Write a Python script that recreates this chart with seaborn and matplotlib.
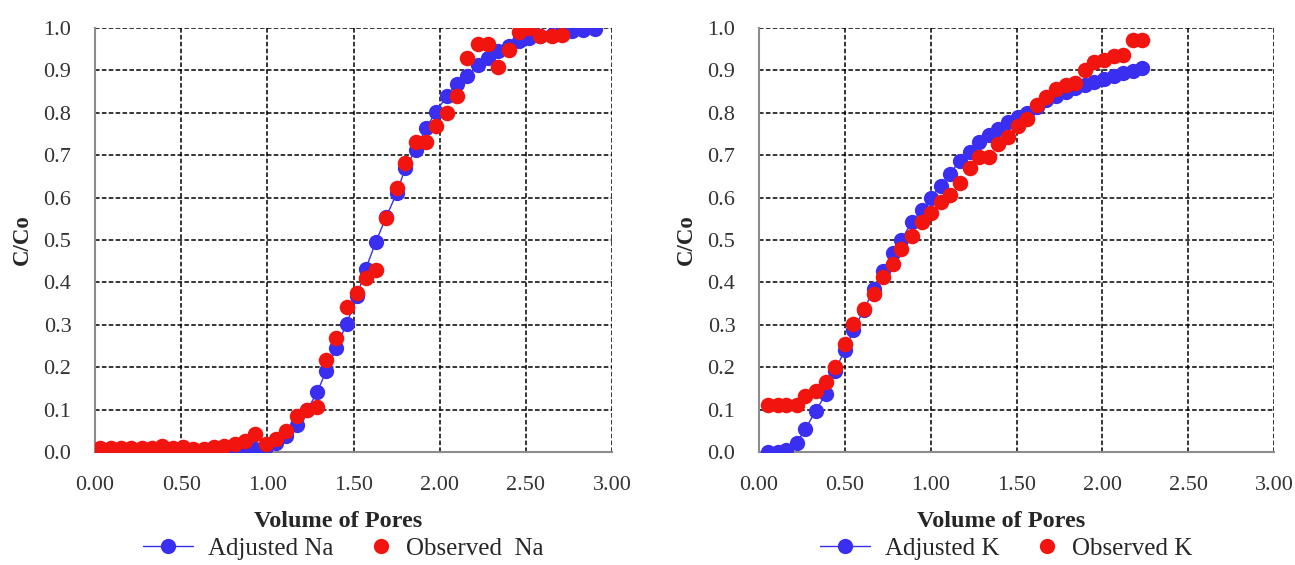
import matplotlib
matplotlib.use("Agg")
import matplotlib.pyplot as plt
from matplotlib.lines import Line2D
from matplotlib.legend_handler import HandlerLine2D
from matplotlib.ticker import FormatStrFormatter
import seaborn as sns

sns.set_style("white")
plt.rcParams['font.family'] = ['Liberation Serif', 'DejaVu Serif']

BLUE = '#3a2ef0'
RED = '#f2140f'

# Sodium breakthrough (left panel)
na_pores = [0.03, 0.09, 0.15, 0.21, 0.27, 0.33, 0.39, 0.45, 0.51, 0.57, 0.63, 0.69,
            0.75, 0.81, 0.87, 0.93, 0.99, 1.05, 1.11, 1.17, 1.23, 1.29, 1.34, 1.40,
            1.46, 1.52, 1.57, 1.63, 1.69, 1.75, 1.80, 1.86, 1.92, 1.98, 2.04, 2.10,
            2.16, 2.22, 2.28, 2.34, 2.40, 2.46, 2.52, 2.58, 2.65, 2.71, 2.77, 2.83, 2.90]
na_adjusted = [0.0, 0.0, 0.0, 0.0, 0.0, 0.0, 0.0, 0.0, 0.0, 0.0, 0.0, 0.0,
               0.0, 0.001, 0.003, 0.006, 0.012, 0.022, 0.038, 0.063, 0.098, 0.142, 0.19, 0.246,
               0.303, 0.367, 0.431, 0.496, 0.555, 0.61, 0.669, 0.713, 0.764, 0.803, 0.839, 0.869,
               0.887, 0.913, 0.929, 0.945, 0.957, 0.969, 0.976, 0.982, 0.984, 0.988, 0.992, 0.995, 0.997]
na_observed = [0.01, 0.01, 0.01, 0.01, 0.01, 0.01, 0.015, 0.01, 0.012, 0.008, 0.008, 0.012,
               0.013, 0.018, 0.025, 0.042, 0.018, 0.03, 0.05, 0.086, 0.098, 0.106, 0.218, 0.27,
               0.341, 0.375, 0.41, 0.43, 0.553, 0.622, 0.681, 0.732, 0.732, 0.768, 0.80, 0.84,
               0.929, 0.962, 0.962, 0.909, 0.949, 0.99, 1.0, 0.982, 0.982, 0.984]

# Potassium breakthrough (right panel)
k_pores = [0.05, 0.11, 0.16, 0.22, 0.27, 0.33, 0.39, 0.44, 0.50, 0.55, 0.61, 0.67,
           0.72, 0.78, 0.83, 0.89, 0.95, 1.00, 1.06, 1.11, 1.17, 1.23, 1.28, 1.34,
           1.39, 1.45, 1.51, 1.56, 1.62, 1.67, 1.73, 1.79, 1.84, 1.90, 1.95, 2.01,
           2.07, 2.12, 2.18, 2.23]
k_adjusted = [0.0, 0.0, 0.005, 0.022, 0.054, 0.097, 0.137, 0.19, 0.24, 0.287, 0.335, 0.384,
              0.426, 0.47, 0.50, 0.543, 0.57, 0.60, 0.628, 0.656, 0.687, 0.707, 0.731, 0.747,
              0.762, 0.778, 0.79, 0.80, 0.814, 0.83, 0.84, 0.85, 0.858, 0.866, 0.873, 0.879,
              0.886, 0.893, 0.899, 0.905]
k_observed = [0.111, 0.111, 0.111, 0.111, 0.133, 0.145, 0.165, 0.2, 0.255, 0.302, 0.337, 0.372,
              0.412, 0.443, 0.478, 0.51, 0.543, 0.563, 0.59, 0.606, 0.634, 0.671, 0.695, 0.695,
              0.727, 0.743, 0.77, 0.786, 0.818, 0.838, 0.857, 0.865, 0.87, 0.90, 0.921, 0.925,
              0.933, 0.937, 0.972, 0.972]

x_ticks = [0.0, 0.5, 1.0, 1.5, 2.0, 2.5, 3.0]
y_ticks = [0.0, 0.1, 0.2, 0.3, 0.4, 0.5, 0.6, 0.7, 0.8, 0.9, 1.0]


class DotNearText(HandlerLine2D):
    # marker-only entry: push the dot to the right end of its handle box
    def create_artists(self, legend, orig_handle, xdescent, ydescent, width, height,
                       fontsize, trans):
        artists = super().create_artists(legend, orig_handle, xdescent, ydescent,
                                         width, height, fontsize, trans)
        for art in artists:
            art.set_xdata([x + 0.3 * width for x in art.get_xdata()])
        return artists


def draw_panel(ax, x_adj, y_adj, x_obs, y_obs, labels):
    sns.lineplot(x=x_adj, y=y_adj, ax=ax, color=BLUE, linewidth=1, marker='o',
                 markersize=11, markeredgewidth=0, zorder=3)
    sns.scatterplot(x=x_obs, y=y_obs, ax=ax, color=RED, s=125, linewidth=0, zorder=4)

    ax.set_xlim(0, 3)
    ax.set_ylim(0, 1)
    ax.set_xticks(x_ticks)
    ax.set_yticks(y_ticks)
    ax.xaxis.set_major_formatter(FormatStrFormatter('%.2f'))
    ax.yaxis.set_major_formatter(FormatStrFormatter('%.1f'))
    ax.tick_params(axis='both', labelsize=16, length=7, width=1.2, color='#8c8c8c',
                   pad=10, direction='out', labelcolor='#333333')
    ax.set_axisbelow(True)
    ax.grid(True, color='black', linestyle=(0, (3, 1.5)), linewidth=1.1)
    for side in ['top', 'right']:
        ax.spines[side].set_visible(False)
    for side in ['left', 'bottom']:
        ax.spines[side].set_color('#8c8c8c')
        ax.spines[side].set_linewidth(1.5)

    ax.set_xlabel('Volume of Pores', fontsize=17.5, fontweight='bold')
    ax.set_ylabel('C/Co', fontsize=16.5, fontweight='bold', labelpad=8)
    ax.xaxis.set_label_coords(0.47, -0.14, transform=ax.transAxes)
    ax.xaxis.label.set_va('top')

    adj = Line2D([], [], color=BLUE, marker='o', markersize=11, markeredgewidth=0, lw=1)
    obs = Line2D([], [], color=RED, marker='o', markersize=11, markeredgewidth=0, lw=0)
    ax.legend([adj, obs], labels, loc='center', bbox_to_anchor=(0.48, -0.228), ncol=2,
              frameon=False, fontsize=18, handlelength=2.0, handletextpad=0.6,
              columnspacing=0.3, borderpad=0.2, handler_map={obs: DotNearText()})


fig = plt.figure(figsize=(12.95, 5.65), dpi=100)
ax_na = fig.add_axes([0.0734, 0.2, 0.3992, 0.7504])
ax_k = fig.add_axes([0.5861, 0.2, 0.3977, 0.7504])

draw_panel(ax_na, na_pores, na_adjusted, na_pores[:len(na_observed)], na_observed,
           ['Adjusted Na', 'Observed  Na'])
draw_panel(ax_k, k_pores, k_adjusted, k_pores, k_observed,
           ['Adjusted K', 'Observed K'])

fig.savefig('out.png', dpi=100)
